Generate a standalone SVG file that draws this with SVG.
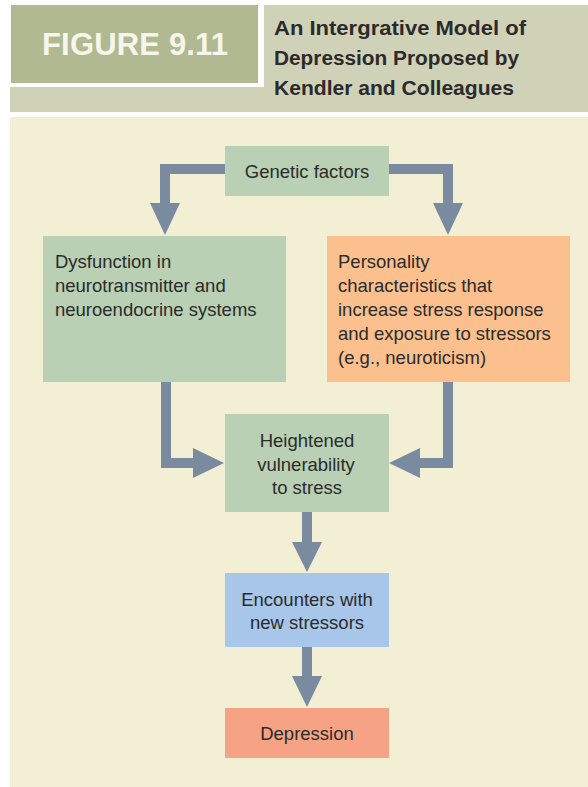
<svg xmlns="http://www.w3.org/2000/svg" width="588" height="787" viewBox="0 0 588 787">
<style>
.t{font-family:"Liberation Sans",Arial,sans-serif;font-size:18.5px;fill:#2b2b2b}
.c{text-anchor:middle}
.h{font-family:"Liberation Sans",Arial,sans-serif;font-size:20px;font-weight:bold;fill:#2b2b2b}
.arr{fill:#7a8ba0}
</style>
<rect x="0" y="0" width="588" height="787" fill="#ffffff"/>
<g id="header">
<rect x="10" y="5" width="578" height="107" fill="#d0d2b8"/>
<rect x="10" y="5" width="254" height="82" fill="#ffffff"/>
<rect x="11" y="5" width="247" height="78" fill="#b1b990"/>
<text x="42" y="55" font-family="Liberation Sans,Arial,sans-serif" font-size="31" font-weight="bold" fill="#f7f6ec" textLength="186" lengthAdjust="spacing">FIGURE 9.11</text>
<text class="h" x="274" y="35" textLength="252" lengthAdjust="spacingAndGlyphs">An Intergrative Model of</text>
<text class="h" x="274" y="65" textLength="245" lengthAdjust="spacingAndGlyphs">Depression Proposed by</text>
<text class="h" x="274" y="95" textLength="240" lengthAdjust="spacingAndGlyphs">Kendler and Colleagues</text>
</g>
<rect x="10" y="117" width="578" height="670" fill="#f3efd5"/>
<g id="connectors">
<path class="arr" d="M225,164 H160 V203 H150 L165,235 L180,203 H170 V174 H225 Z"/>
<path class="arr" d="M389,164 H453 V203 H463 L448,235 L433,203 H443 V174 H389 Z"/>
<path class="arr" d="M161,382 V468 H193 V478 L224,463 L193,448 V458 H171 V382 Z"/>
<path class="arr" d="M453,382 V468 H420 V478 L389,463 L420,448 V458 H443 V382 Z"/>
<path class="arr" d="M302,512 V542 H292 L307,572 L322,542 H312 V512 Z"/>
<path class="arr" d="M302,647 V676 H292 L307,707 L322,676 H312 V647 Z"/>
</g>
<g id="genetic">
<rect x="225" y="146" width="164" height="50" fill="#b9d0b4"/>
<text class="t c" x="307" y="178">Genetic factors</text>
</g>
<g id="dysfunction">
<rect x="43" y="236" width="243" height="146" fill="#b9d0b4"/>
<text class="t" x="55" y="268">Dysfunction in</text>
<text class="t" x="55" y="292">neurotransmitter and</text>
<text class="t" x="55" y="316">neuroendocrine systems</text>
</g>
<g id="personality">
<rect x="327" y="236" width="243" height="146" fill="#fbc08e"/>
<text class="t" x="338" y="268">Personality</text>
<text class="t" x="338" y="292">characteristics that</text>
<text class="t" x="338" y="316">increase stress response</text>
<text class="t" x="338" y="340">and exposure to stressors</text>
<text class="t" x="338" y="364">(e.g., neuroticism)</text>
</g>
<g id="vulnerability">
<rect x="225" y="414" width="164" height="98" fill="#b9d0b4"/>
<text class="t c" x="307" y="447">Heightened</text>
<text class="t c" x="306" y="471">vulnerability</text>
<text class="t c" x="307" y="494">to stress</text>
</g>
<g id="encounters">
<rect x="225" y="573" width="164" height="74" fill="#a7c6e9"/>
<text class="t c" x="307" y="606">Encounters with</text>
<text class="t c" x="307" y="629">new stressors</text>
</g>
<g id="depression">
<rect x="225" y="708" width="164" height="50" fill="#f6a385"/>
<text class="t c" x="307" y="740">Depression</text>
</g>
</svg>
